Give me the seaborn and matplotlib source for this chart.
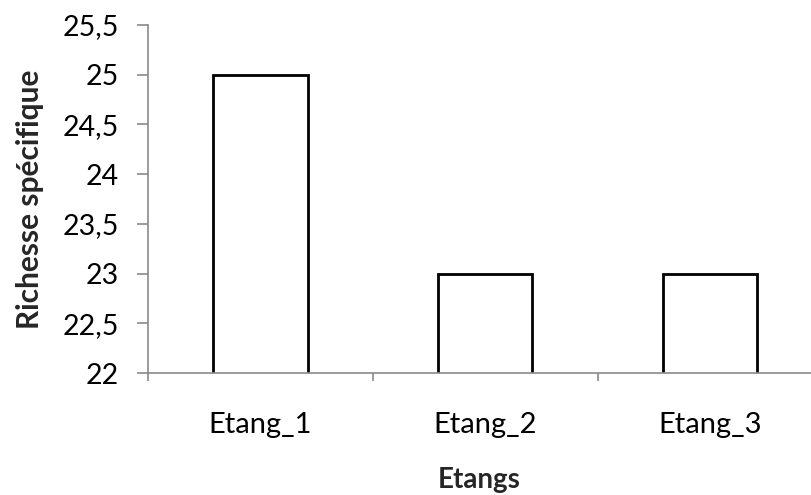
import matplotlib
matplotlib.use("Agg")
import matplotlib.pyplot as plt
import seaborn as sns
import pandas as pd
from matplotlib.ticker import FuncFormatter, FixedLocator

categories = ["Etang_1", "Etang_2", "Etang_3"]
richesse = [25, 23, 23]
yticks = [22, 22.5, 23, 23.5, 24, 24.5, 25, 25.5]

sns.set_theme(style="white")
plt.rcParams['font.family'] = ['Lato', 'DejaVu Sans']

df = pd.DataFrame({"Etangs": categories, "Richesse spécifique": richesse})

fig = plt.figure(figsize=(8.11, 4.95), dpi=100)
ax = fig.add_axes([148/811, 122/495, 1 - 148/811, 348/495])

sns.barplot(data=df, x="Etangs", y="Richesse spécifique", ax=ax,
            color="white", edgecolor="black", linewidth=2, width=0.418)

ax.set_ylim(22, 25.5)
ax.set_xlim(-0.5, 2.447)
ax.set_yticks(yticks)
ax.yaxis.set_major_formatter(FuncFormatter(lambda v, p: (f"{v:g}").replace(".", ",")))

for s in ["top", "right"]:
    ax.spines[s].set_visible(False)
for s in ["left", "bottom"]:
    ax.spines[s].set_color("#8a8a8a")
    ax.spines[s].set_linewidth(1.2)

ax.tick_params(axis="y", which="major", direction="out", length=8, width=1.2,
               color="#8a8a8a", labelsize=20.5, pad=13, left=True, labelcolor="black")
ax.xaxis.set_minor_locator(FixedLocator([-0.5, 0.5, 1.5]))
ax.tick_params(axis="x", which="major", length=0, labelsize=21, pad=28, labelcolor="black")
ax.tick_params(axis="x", which="minor", direction="out", length=6, width=1.2,
               color="#8a8a8a", bottom=True)

ax.set_xlabel("Etangs", fontsize=20, fontweight="bold", labelpad=21)
ax.set_ylabel("Richesse spécifique", fontsize=21.5, fontweight="bold", labelpad=13)

fig.savefig("out.png", dpi=100)
